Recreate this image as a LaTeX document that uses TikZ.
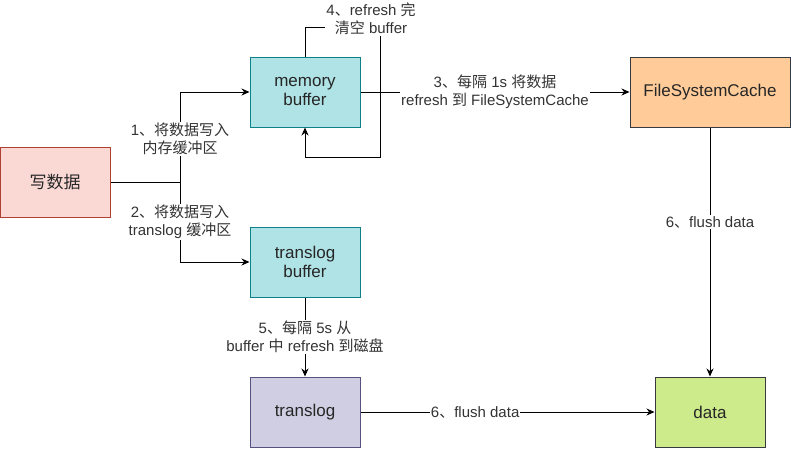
\documentclass[tikz,border=0pt]{standalone}
\usepackage{fontspec}
\setmainfont{Liberation Sans}
\newfontfamily\cjk{Noto Sans CJK SC}
\newcommand{\zh}[1]{{\cjk #1}}
\usetikzlibrary{arrows.meta}

\definecolor{writefill}{HTML}{FAD9D5}
\definecolor{writeline}{HTML}{AE4132}
\definecolor{tealfill}{HTML}{B0E3E6}
\definecolor{tealline}{HTML}{0E8088}
\definecolor{cachefill}{HTML}{FFCC99}
\definecolor{darkline}{HTML}{36393D}
\definecolor{logfill}{HTML}{D0CEE2}
\definecolor{logline}{HTML}{56517E}
\definecolor{datafill}{HTML}{CDEB8B}

\begin{document}
\begin{tikzpicture}[x=1pt, y=-1pt,
  box/.style={rectangle, draw, line width=1pt, minimum width=110pt, minimum height=70pt,
    align=center, font=\fontsize{17}{19}\selectfont, text=black!85},
  lbl/.style={fill=white, inner sep=1pt, align=center, font=\fontsize{15}{18}\selectfont, text=black!80},
  arr/.style={line width=1pt, -{Stealth[length=8pt, width=7pt]}}]
\useasboundingbox (0,0) rectangle (791,448);

% boxes
\node[box, fill=writefill, draw=writeline] (wd) at (55,182) {\zh{写数据}};
\node[box, fill=tealfill, draw=tealline] (mb) at (305,92) {memory\\buffer};
\node[box, fill=tealfill, draw=tealline] (tb) at (305,262) {translog\\buffer};
\node[box, fill=cachefill, draw=darkline, minimum width=160pt] (fsc) at (710,92) {FileSystemCache};
\node[box, fill=logfill, draw=logline] (tl) at (305,412) {translog};
\node[box, fill=datafill, draw=darkline] (data) at (710,412) {data};

% write into the two buffers
\coordinate (split) at (180,182);
\draw[line width=1pt] (wd.east) -- (split);
\draw[arr] (split) |- (mb.west);
\draw[arr] (split) |- (tb.west);
\node[lbl] (l1) at (180,139) {1\zh{、将数据写入}\\\zh{内存缓冲区}};
\node[lbl] (l2) at (180,222) {2\zh{、将数据写入}\\translog \zh{缓冲区}};

% refresh loop
\coordinate (lpA) at (380,27);
\coordinate (lpB) at (380,157);
\draw[arr] (mb.north) |- (lpA) -- (lpB) -| (mb.south);
\node[lbl] (l4) at (371,19) {4\zh{、}refresh \zh{完}\\\zh{清空} buffer};

% refresh to cache
\draw[arr] (mb.east) -- (fsc.west)
  node[lbl, midway] (l3) {3\zh{、每隔} 1s \zh{将数据}\\refresh \zh{到} FileSystemCache};

% translog to disk
\draw[arr] (tb.south) -- (tl.north)
  node[lbl, midway] (l5) {5\zh{、每隔} 5s \zh{从}\\buffer \zh{中} refresh \zh{到磁盘}};

% flush
\draw[arr] (tl.east) -- (data.west) node[lbl, pos=0.39] (l6a) {6\zh{、}flush data};
\draw[arr] (fsc.south) -- (data.north) node[lbl, pos=0.38] (l6b) {6\zh{、}flush data};
\end{tikzpicture}
\end{document}
